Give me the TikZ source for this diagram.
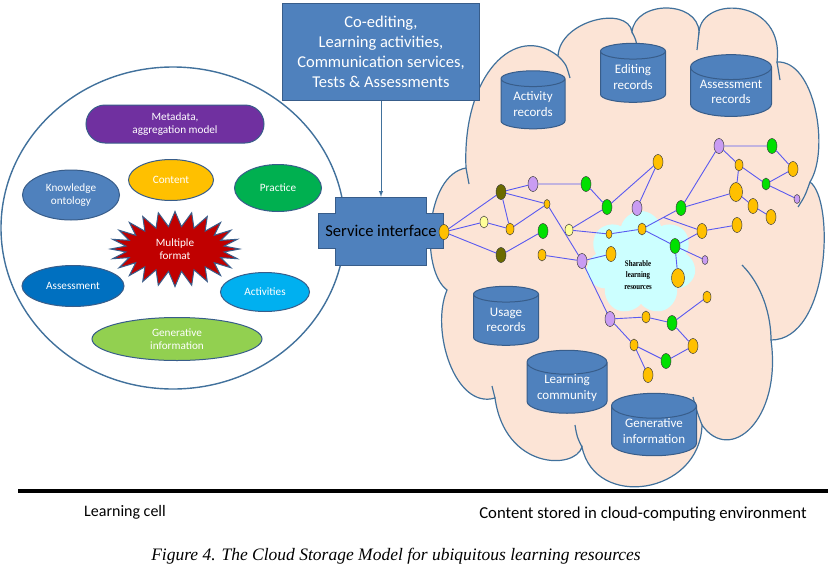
\documentclass[tikz,border=0pt]{standalone}
\usepackage{fontspec}
\setmainfont{Carlito}
\newfontfamily\capfont{Liberation Serif}
\usepackage{tikz}
\usepackage{xcolor}
\usetikzlibrary{arrows, calc, positioning, shapes.geometric, shapes.symbols}

\definecolor{rimblue}{HTML}{41719C}
\definecolor{darkblue}{HTML}{385D8A}
\definecolor{boxblue}{HTML}{4F81BD}
\definecolor{peach}{HTML}{FCE4D6}
\definecolor{skyfill}{HTML}{CCFFFF}
\definecolor{linkblue}{HTML}{5A5AF0}
\definecolor{dotorange}{HTML}{FFC000}
\definecolor{dotgreen}{HTML}{00E000}
\definecolor{dotpurple}{HTML}{C99CF2}
\definecolor{dotolive}{HTML}{6B6B00}
\definecolor{dotcream}{HTML}{FFFF99}
\definecolor{metapurple}{HTML}{7030A0}
\definecolor{practgreen}{HTML}{00B050}
\definecolor{assessblue}{HTML}{0070C0}
\definecolor{activblue}{HTML}{00B0F0}
\definecolor{genlime}{HTML}{92D050}
\definecolor{burstred}{HTML}{C00000}

\tikzset{
  item/.style={ellipse, draw=darkblue, line width=1pt, text=white, align=center,
    inner sep=0pt, font=\fontsize{11.2}{13.5}\selectfont},
  store/.style={cylinder, shape border rotate=90, aspect=0.4, draw=darkblue, fill=boxblue,
    line width=1pt, text=white, align=center, inner sep=0pt, font=\fontsize{13}{15.5}\selectfont},
  cloudline/.style={draw=rimblue, line width=1.2pt},
  dot/.style={ellipse, draw=black!75, line width=0.5pt, inner sep=0pt,
    minimum width=10pt, minimum height=15pt},
  smalldot/.style={minimum width=8pt, minimum height=12pt},
  tinydot/.style={minimum width=6pt, minimum height=9pt},
  bigdot/.style={minimum width=13pt, minimum height=19pt},
  ordot/.style={dot, fill=dotorange},
  grdot/.style={dot, fill=dotgreen},
  pudot/.style={dot, fill=dotpurple},
  oldot/.style={dot, fill=dotolive},
  yedot/.style={dot, fill=dotcream},
  link/.style={draw=linkblue, line width=0.9pt}
}

\begin{document}
\begin{tikzpicture}[x=1pt, y=-1pt]
\useasboundingbox (0,0) rectangle (828,568);

% learning cell
\node[ellipse, draw=rimblue, line width=1.4pt, fill=white, minimum width=344pt, minimum height=322pt] (cell) at (173,228) {};
\node[rectangle, rounded corners=19pt, draw=darkblue, line width=1pt, fill=metapurple, text=white, align=center,
  minimum width=178pt, minimum height=38pt, inner sep=0pt, font=\fontsize{11.2}{13.5}\selectfont] (meta) at (175,124) {Metadata,\\aggregation model};
\node[item, fill=dotorange, minimum width=85pt, minimum height=41pt] (content) at (171,180) {Content};
\node[item, fill=boxblue, minimum width=97pt, minimum height=50pt] (onto) at (71,195) {Knowledge\\ontology};
\node[item, fill=practgreen, minimum width=87pt, minimum height=47pt] (practice) at (278,188) {Practice};
\node[starburst, starburst points=24, starburst point height=15pt, random starburst=0, draw=darkblue, line width=1pt,
  fill=burstred, text=white, align=center, minimum width=129pt, minimum height=75pt, inner sep=0pt,
  font=\fontsize{11.2}{13.5}\selectfont] (fmt) at (175,249) {Multiple\\format};
\node[item, fill=assessblue, minimum width=102pt, minimum height=41pt] (assess) at (73,286) {Assessment};
\node[item, fill=activblue, minimum width=89pt, minimum height=39pt] (activ) at (265,292) {Activities};
\node[item, fill=genlime, minimum width=170pt, minimum height=43pt] (gen) at (177,339) {Generative\\information};

% cloud
\draw[cloudline, fill=peach] (466,168) .. controls (462,75) and (515,22) .. (558,56)
  .. controls (560,20) and (628,5) .. (632,32)
  .. controls (635,0) and (698,0) .. (699,32)
  .. controls (702,-5) and (785,-2) .. (777,62)
  .. controls (815,60) and (830,150) .. (810,182)
  .. controls (835,200) and (830,340) .. (771,340)
  .. controls (782,420) and (730,465) .. (702,425)
  .. controls (700,495) and (595,510) .. (582,447)
  .. controls (575,470) and (505,470) .. (495,398)
  .. controls (455,410) and (430,330) .. (447,290)
  .. controls (420,270) and (425,175) .. (466,168) -- cycle;
\draw[cloudline] (466,168) -- (469,184);
\draw[cloudline] (558,56) .. controls (566,64) .. (570,78);
\draw[cloudline] (632,32) .. controls (636,40) .. (637,47);
\draw[cloudline] (699,32) -- (697,50);
\draw[cloudline] (777,62) -- (780,80);
\draw[cloudline] (810,182) .. controls (805,196) .. (798,207);
\draw[cloudline] (742,265) .. controls (762,285) and (771,315) .. (771,340);
\draw[cloudline] (702,425) .. controls (697,412) .. (693,397);
\draw[cloudline] (582,447) .. controls (577,437) .. (575,425);
\draw[cloudline] (495,398) -- (492,386);

\node[cloud, cloud puffs=7, cloud ignores aspect, fill=skyfill, minimum width=110pt, minimum height=104pt, inner sep=0pt] (shared) at (641,263) {};
\node[font=\capfont\bfseries\fontsize{8.5}{11.5}\selectfont, align=center, xscale=0.8] (sharetxt) at (638,275) {Sharable\\learning\\resources};

% stores
\node[store, minimum width=64pt, minimum height=58pt] (actrec) at (533,104) {Activity\\records};
\node[store, minimum width=65pt, minimum height=59pt] (editrec) at (633,77) {Editing\\records};
\node[store, minimum width=81pt, minimum height=59pt] (assrec) at (731,92) {Assessment\\records};
\node[store, minimum width=65pt, minimum height=59pt] (userec) at (506,320) {Usage\\records};
\node[store, minimum width=80pt, minimum height=59pt] (commrec) at (567,388) {Learning\\community};
\node[store, minimum width=85pt, minimum height=59pt] (genrec) at (654,431) {Generative\\information};

% service interface
\draw[draw=darkblue, fill=boxblue, line width=1pt] (335,197) -- (426,197) -- (426,213) -- (443,213) -- (443,248) -- (426,248)
  -- (426,265) -- (335,265) -- (335,248) -- (318,248) -- (318,213) -- (335,213) -- cycle;
\node[minimum width=91pt, minimum height=68pt, inner sep=0pt, font=\fontsize{16.5}{20}\selectfont] (si) at (381,231) {Service interface};
\node[rectangle, draw=darkblue, fill=boxblue, line width=1pt, text=white, align=center, minimum width=197pt, minimum height=97pt,
  inner sep=0pt, font=\fontsize{16.5}{20}\selectfont] (hdr) at (381,51.5) {Co-editing,\\Learning activities,\\Communication services,\\Tests \& Assessments};
\draw[-latex, draw=rimblue, line width=1pt] (hdr) -- (si);

% resource network
\node[ordot] (port) at (444,232) {};
\node[oldot] (a) at (501,192) {};
\node[pudot] (b) at (533,184) {};
\node[grdot] (c) at (586,184) {};
\node[grdot] (d) at (607,207) {};
\node[pudot] (e) at (637,208) {};
\node[ordot] (f) at (658,162) {};
\node[yedot, smalldot] (g) at (484,222) {};
\node[ordot, smalldot] (h) at (510,229) {};
\node[ordot, tinydot] (i) at (547,204) {};
\node[grdot] (j) at (543,231) {};
\node[oldot] (k) at (501,255) {};
\node[ordot, smalldot] (l) at (542,255) {};
\node[yedot, smalldot] (m) at (569,230) {};
\node[pudot] (n) at (582,261) {};
\node[ordot] (o) at (611,254) {};
\node[ordot, tinydot] (p) at (609,234) {};
\node[ordot, smalldot] (q) at (642,229) {};
\node[grdot] (r) at (681,208) {};
\node[pudot] (s) at (719,146) {};
\node[grdot] (t) at (772,146) {};
\node[ordot, smalldot] (u) at (739,165) {};
\node[ordot] (v) at (793,169) {};
\node[grdot, smalldot] (w) at (766,184) {};
\node[ordot, bigdot] (x) at (736,192) {};
\node[ordot] (y) at (753,206) {};
\node[ordot] (z) at (771,217) {};
\node[pudot, tinydot] (aa) at (797,199) {};
\node[ordot] (bb) at (702,231) {};
\node[ordot] (cc) at (737,225) {};
\node[grdot] (dd) at (675,246) {};
\node[pudot, tinydot] (ee) at (705,260) {};
\node[ordot, bigdot] (ff) at (678,278) {};
\node[ordot, smalldot] (gg) at (707,297) {};
\node[pudot] (hh) at (610,319) {};
\node[ordot, smalldot] (ii) at (646,317) {};
\node[grdot] (jj) at (672,323) {};
\node[ordot] (kk) at (693,346) {};
\node[ordot, smalldot] (ll) at (634,345) {};
\node[grdot] (mm) at (666,361) {};
\node[ordot] (nn) at (648,375) {};
\coordinate (qr) at ($(q)!0.55!(r)$);
\draw[link] (port) -- (a) (port) -- (g) (port) -- (k)
  (a) -- (b) -- (c) -- (d) -- (f) -- (e)
  (a) -- (h) -- (g) (a) -- (i) -- (h) (k) -- (j)
  (i) -- (n) -- (hh) (l) -- (n) -- (o)
  (m) -- (d) (m) -- (p) -- (q) -- (r) -- (s) -- (t) -- (v) -- (w) -- (aa)
  (s) -- (u) -- (w) (u) -- (x) -- (y) -- (z) (r) -- (x)
  (q) -- (dd) -- (bb) -- (cc) (dd) -- (ee) (dd) -- (ff) (qr) -- (bb)
  (hh) -- (ii) -- (jj) -- (gg) (jj) -- (kk) -- (mm) -- (ll) -- (hh) (ll) -- (nn);

% ground line and captions
\draw[line width=3.5pt] (18,491) -- (828,491);
\node[font=\fontsize{16}{19}\selectfont] (cellcap) at (125,512) {Learning cell};
\node[font=\fontsize{16.7}{19}\selectfont] (cloudcap) at (643,514) {Content stored in cloud-computing environment};
\node[font=\capfont\itshape\fontsize{17.5}{20}\selectfont] (figcap) at (396,556) {Figure 4. The Cloud Storage Model for ubiquitous learning resources};
\end{tikzpicture}
\end{document}
